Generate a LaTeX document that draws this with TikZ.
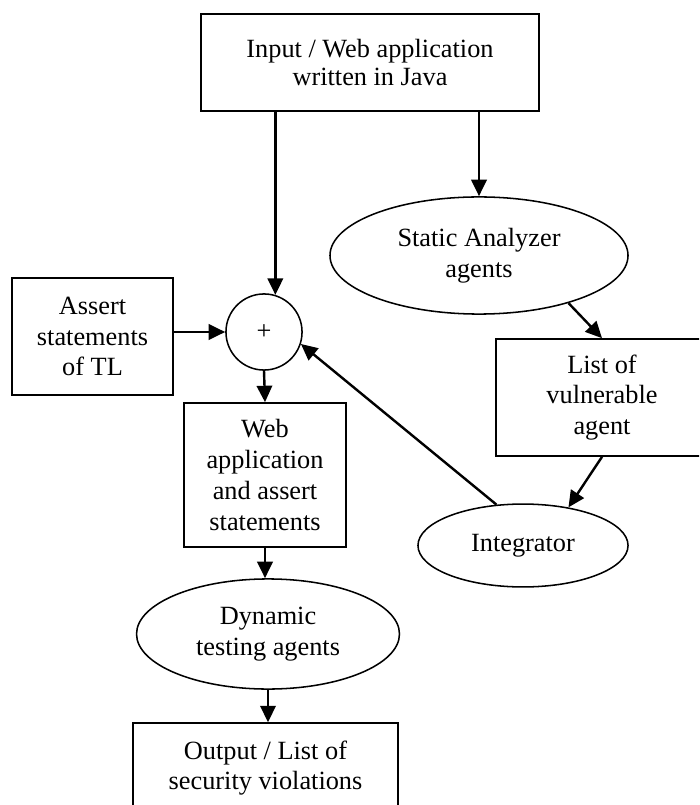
\documentclass[tikz,border=0pt]{standalone}
\usepackage{fontspec}
\setmainfont{Liberation Serif}
\usetikzlibrary{arrows.meta,shapes.geometric}

\begin{document}
\begin{tikzpicture}[x=0.456pt,y=-0.456pt,
  box/.style={draw,line width=0.7pt,align=center,inner sep=0pt,
    font=\fontsize{12}{14}\selectfont},
  oval/.style={box,ellipse},
  arr/.style={line width=1.1pt,-{Triangle[length=7.5pt,width=7pt]}}]
\useasboundingbox (0,0) rectangle (699,805);
\clip (0,0) rectangle (699,805);
% boxes
\node[box,minimum width=154pt,minimum height=44pt,
  font=\fontsize{12}{12.5}\selectfont] (input) at (370,62.5)
  {Input / Web application\\written in Java};
\node[box,minimum width=73.4pt,minimum height=53.4pt] (assert) at (92.5,336.5)
  {Assert\\statements\\of TL};
\node[box,minimum width=73.9pt,minimum height=65.7pt] (webapp) at (265,475)
  {Web\\application\\and assert\\statements};
\node[box,minimum width=96.7pt,minimum height=53.4pt] (vlist) at (602,397.5)
  {List of\\vulnerable\\agent};
\node[box,minimum width=120.8pt,minimum height=41pt] (output) at (265.5,768)
  {Output / List of\\security violations};
% ovals
\node[box,circle,minimum size=34.7pt] (plus) at (264,332) {+};
\node[oval,minimum width=135.9pt,minimum height=53.4pt] (static) at (479,255.5)
  {Static Analyzer\\agents};
\node[oval,minimum width=95.8pt,minimum height=37.8pt] (integ) at (523,545.5)
  {Integrator};
\node[oval,minimum width=119.9pt,minimum height=50.2pt] (dynamic) at (268,634)
  {Dynamic\\testing agents};
% arrows
\draw[arr] (input.south -| plus.73) -- (plus.73);
\draw[arr] (input.south -| static.north) -- (static.north);
\draw[arr] (assert.east |- plus.west) -- (plus.west);
\draw[arr] (plus.south) -- (webapp.north);
\draw[arr] (static.-28) -- (vlist.north);
\draw[arr] (vlist.south) -- (integ.40);
\draw[arr] (integ.123) -- (plus.-18);
\draw[arr] (webapp.south) -- (webapp.south |- dynamic.north);
\draw[arr] (dynamic.south) -- (dynamic.south |- output.north);
\end{tikzpicture}
\end{document}
